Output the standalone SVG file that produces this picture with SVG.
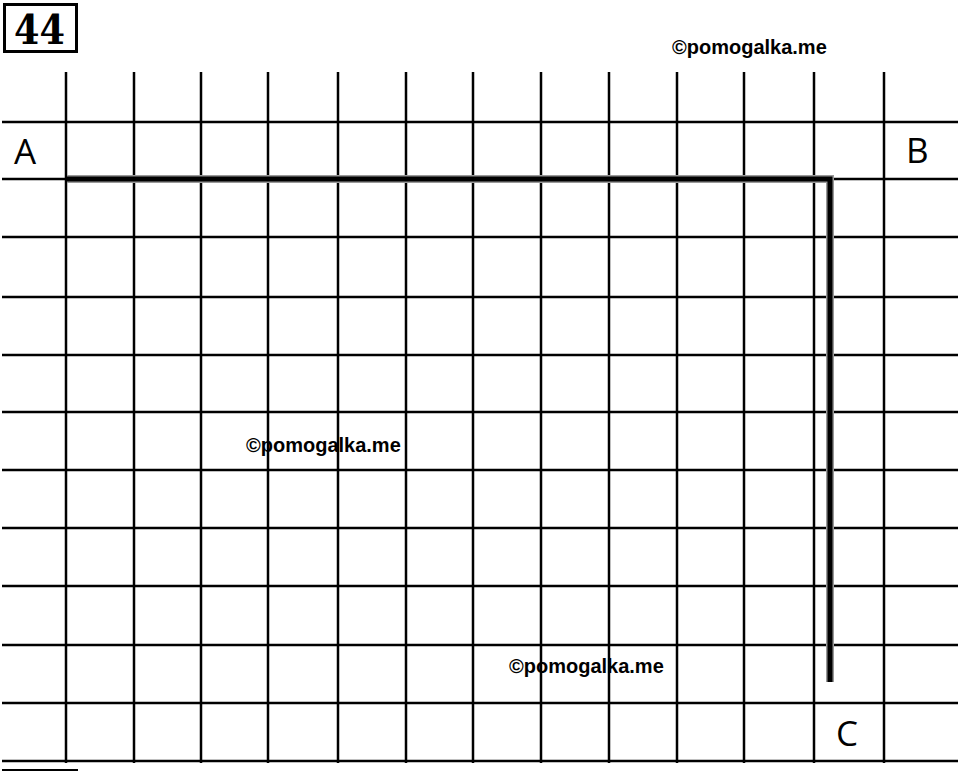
<svg xmlns="http://www.w3.org/2000/svg" width="960" height="771" viewBox="0 0 960 771">
<style>
.g{stroke:#000;stroke-width:2.5;fill:none}
.lbl{font-family:"Open Sans","Liberation Sans",sans-serif;font-size:35px;fill:#000}
.wm{font-family:"Liberation Sans",Arial,sans-serif;font-size:20px;font-weight:bold;fill:#000}
.num{font-family:"DejaVu Serif","Liberation Serif",serif;font-size:41px;font-weight:bold;fill:#000}
</style>
<rect width="960" height="771" fill="#fff"/>
<g id="title">
<rect x="4.5" y="4.5" width="72" height="47" fill="#fff" stroke="#000" stroke-width="3"/>
<text class="num" x="14" y="44" textLength="51" lengthAdjust="spacingAndGlyphs">44</text>
</g>
<g id="grid" class="g">
<line x1="66" y1="72" x2="66" y2="763"/>
<line x1="134" y1="72" x2="134" y2="763"/>
<line x1="201" y1="72" x2="201" y2="763"/>
<line x1="268" y1="72" x2="268" y2="763"/>
<line x1="338" y1="72" x2="338" y2="763"/>
<line x1="406" y1="72" x2="406" y2="763"/>
<line x1="473" y1="72" x2="473" y2="763"/>
<line x1="541" y1="72" x2="541" y2="763"/>
<line x1="609" y1="72" x2="609" y2="763"/>
<line x1="677" y1="72" x2="677" y2="763"/>
<line x1="744" y1="72" x2="744" y2="763"/>
<line x1="814" y1="72" x2="814" y2="763"/>
<line x1="884" y1="72" x2="884" y2="763"/>
<line x1="2" y1="122" x2="958" y2="122"/>
<line x1="2" y1="179" x2="958" y2="179"/>
<line x1="2" y1="237" x2="958" y2="237"/>
<line x1="2" y1="297" x2="958" y2="297"/>
<line x1="2" y1="355" x2="958" y2="355"/>
<line x1="2" y1="412" x2="958" y2="412"/>
<line x1="2" y1="470" x2="958" y2="470"/>
<line x1="2" y1="528" x2="958" y2="528"/>
<line x1="2" y1="586" x2="958" y2="586"/>
<line x1="2" y1="645" x2="958" y2="645"/>
<line x1="2" y1="703" x2="958" y2="703"/>
<line x1="2" y1="761" x2="958" y2="761"/>
<line x1="2" y1="770" x2="78" y2="770" stroke-width="2"/>
</g>
<g id="connectors">
<polyline points="67,179 830,179 830,682" fill="none" stroke="#999" stroke-width="8"/>
<polyline points="67,179 830,179 830,682" fill="none" stroke="#000" stroke-width="5"/>
</g>
<g id="labels">
<text class="lbl" x="14" y="164">A</text>
<text class="lbl" x="906" y="163">B</text>
<text class="lbl" x="836" y="746">C</text>
</g>
<g id="watermarks">
<text class="wm" x="672" y="54">©pomogalka.me</text>
<text class="wm" x="246" y="452">©pomogalka.me</text>
<text class="wm" x="509" y="673">©pomogalka.me</text>
</g>
</svg>
